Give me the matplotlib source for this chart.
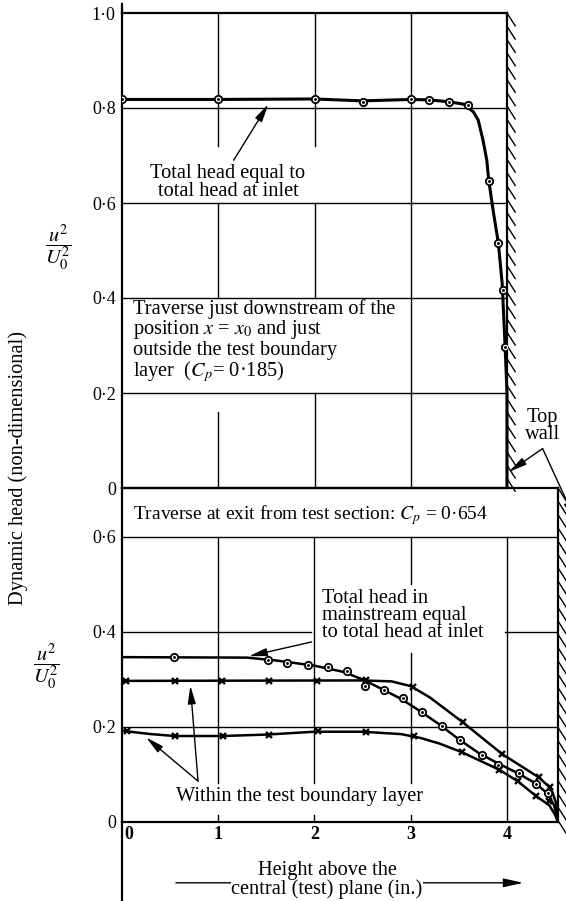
import matplotlib
matplotlib.use("Agg")
import matplotlib.pyplot as plt
import matplotlib.transforms as mtransforms

plt.rcParams['font.family'] = ['Liberation Serif', 'DejaVu Serif']
plt.rcParams['mathtext.fontset'] = 'stix'

# ---------------- data ----------------
X_TICKS = [0, 1, 2, 3, 4]
X_LABELS = ['0', '1', '2', '3', '4']
TOP_Y_TICKS = [0, 0.2, 0.4, 0.6, 0.8, 1.0]
TOP_Y_LABELS = ['0', '0·2', '0·4', '0·6', '0·8', '1·0']
BOT_Y_TICKS = [0, 0.2, 0.4, 0.6]
BOT_Y_LABELS = ['0', '0·2', '0·4', '0·6']

# upper traverse (C_p = 0.185): measured points and faired curve
TOP_PTS_X = [0.0, 1.0, 2.0, 2.5, 3.0, 3.19, 3.40, 3.59, 3.81, 3.91, 3.96, 3.98]
TOP_PTS_Y = [0.818, 0.818, 0.819, 0.813, 0.818, 0.816, 0.813, 0.806, 0.647, 0.516, 0.416, 0.296]
TOP_CURVE_X = [0.0, 1.0, 2.0, 2.5, 3.0, 3.2, 3.4, 3.55, 3.65, 3.70, 3.75, 3.79, 3.81, 3.86, 3.91, 3.95, 3.98, 4.0, 4.0]
TOP_CURVE_Y = [0.818, 0.818, 0.819, 0.815, 0.818, 0.817, 0.813, 0.808, 0.792, 0.775, 0.733, 0.69, 0.648, 0.579, 0.516, 0.43, 0.30, 0.2, 0.0]

# lower traverse (C_p = 0.654)
MS_PTS_X = [0.54, 1.52, 1.71, 1.93, 2.14, 2.34, 2.52, 2.72, 2.92, 3.12, 3.32, 3.51, 3.74, 3.91, 4.12, 4.30, 4.43]
MS_PTS_Y = [0.347, 0.342, 0.335, 0.331, 0.326, 0.317, 0.286, 0.278, 0.260, 0.232, 0.202, 0.172, 0.140, 0.121, 0.104, 0.081, 0.060]
MS_CURVE_X = [0.0, 1.3, 1.6, 2.0, 2.3, 2.5, 2.7, 2.9, 3.1, 3.3, 3.5, 3.7, 3.9, 4.1, 4.3, 4.42, 4.49, 4.53]
MS_CURVE_Y = [0.347, 0.346, 0.340, 0.329, 0.316, 0.300, 0.280, 0.259, 0.233, 0.205, 0.174, 0.146, 0.124, 0.104, 0.081, 0.060, 0.035, 0.0]

BLU_PTS_X = [0.04, 0.55, 1.04, 1.53, 2.03, 2.53, 3.02, 3.54, 3.95, 4.33, 4.45]
BLU_PTS_Y = [0.297, 0.297, 0.297, 0.297, 0.296, 0.299, 0.285, 0.210, 0.143, 0.094, 0.074]
BLU_CURVE_X = [0.0, 2.5, 2.8, 3.0, 3.2, 3.54, 3.95, 4.33, 4.46, 4.51, 4.53]
BLU_CURVE_Y = [0.297, 0.298, 0.296, 0.286, 0.262, 0.210, 0.143, 0.094, 0.070, 0.040, 0.0]

BLL_PTS_X = [0.05, 0.55, 1.05, 1.53, 2.04, 2.53, 3.03, 3.53, 3.92, 4.11, 4.30, 4.44]
BLL_PTS_Y = [0.192, 0.181, 0.181, 0.184, 0.191, 0.190, 0.180, 0.147, 0.110, 0.086, 0.055, 0.045]
BLL_CURVE_X = [0.0, 0.3, 0.55, 1.05, 1.5, 2.0, 2.5, 2.9, 3.1, 3.3, 3.53, 3.92, 4.11, 4.30, 4.44, 4.50, 4.53]
BLL_CURVE_Y = [0.192, 0.185, 0.181, 0.181, 0.184, 0.190, 0.190, 0.185, 0.177, 0.165, 0.147, 0.110, 0.086, 0.055, 0.035, 0.015, 0.0]

# ---------------- layout ----------------
W, H = 566, 901
fig = plt.figure(figsize=(W / 100, H / 100), dpi=100)
fig.patch.set_facecolor('white')

def fx(px):
    return px / W

def fy(py):
    return 1 - py / H

X0, XW_TOP, XW_BOT = 122, 507, 558
ax_top = fig.add_axes([fx(X0), fy(488), (XW_TOP - X0) / W, (488 - 13) / H])
ax_bot = fig.add_axes([fx(X0), fy(822), (XW_BOT - X0) / W, (822 - 488) / H])
ax_top.set_xlim(0, 4.0)
ax_top.set_ylim(0, 1.0)
ax_bot.set_xlim(0, 4.53)
ax_bot.set_ylim(0, 0.703)

FS = 14.7
FT = 13
LW_FRAME = 1.6
LW_GRID = 1.0

for ax in (ax_top, ax_bot):
    for s in ax.spines.values():
        s.set_linewidth(LW_FRAME)
    ax.tick_params(length=0, pad=4.5, labelsize=FT)
    ax.set_facecolor('none')

ax_top.set_xticks([])
ax_top.set_yticks(TOP_Y_TICKS)
ax_top.set_yticklabels(TOP_Y_LABELS)
ax_bot.set_xticks(X_TICKS)
ax_bot.set_xticklabels(X_LABELS, fontweight='bold')
ax_bot.tick_params(axis='x', pad=3)
ax_bot.set_yticks(BOT_Y_TICKS)
ax_bot.set_yticklabels(BOT_Y_LABELS)
lab0 = ax_bot.get_xticklabels()[0]
lab0.set_ha('left')
lab0.set_transform(lab0.get_transform() +
                   mtransforms.ScaledTranslation(2 / 100, 0, fig.dpi_scale_trans))

# ---------------- grid (with gaps for text) ----------------
gk = dict(color='k', lw=LW_GRID, zorder=1)
for yv in [0.2, 0.4, 0.6, 0.8]:
    ax_top.plot([0, 4.0], [yv, yv], **gk)
for xv, segs in [(1, [(0.72, 1.0), (0.4, 0.6), (0.0, 0.16)]),
                 (2, [(0.72, 1.0), (0.4, 0.6), (0.0, 0.2)]),
                 (3, [(0.0, 1.0)])]:
    for a, b in segs:
        ax_top.plot([xv, xv], [a, b], **gk)

ax_bot.plot([0, 4.53], [0.6, 0.6], **gk)
ax_bot.plot([0, 4.53], [0.2, 0.2], **gk)
ax_bot.plot([0, 1.96], [0.4, 0.4], **gk)
ax_bot.plot([3.98, 4.53], [0.4, 0.4], **gk)
for xv, segs in [(1, [(0.082, 0.6), (0.0, 0.014)]),
                 (2, [(0.082, 0.6), (0.0, 0.014)]),
                 (3, [(0.5, 0.6), (0.082, 0.355), (0.0, 0.014)]),
                 (4, [(0.0, 0.6)])]:
    for a, b in segs:
        ax_bot.plot([xv, xv], [a, b], **gk)

# ---------------- walls (hatching) ----------------
def hatch(ax, x, y0, y1, dx, dy, step):
    yy = y1
    while yy > y0 + 0.001:
        ax.plot([x, x + dx], [yy, yy - dy], color='k', lw=1.0, clip_on=False, zorder=1)
        yy -= step

hatch(ax_top, 4.0, 0.0, 1.0, 0.085, 0.027, 0.028)
hatch(ax_bot, 4.53, 0.0, 0.703, 0.085, 0.027, 0.028)

# left axis line extended beyond the panels
ax_top.plot([0, 0], [1.0, 1.02], color='k', lw=LW_FRAME, clip_on=False)
ax_bot.plot([0, 0], [0, -0.17], color='k', lw=LW_FRAME, clip_on=False)

# ---------------- curves ----------------
def circles(ax, xs, ys):
    ax.plot(xs, ys, ls='none', marker='o', ms=5.3, mfc='white', mec='k', mew=1.3, zorder=4)
    ax.plot(xs, ys, ls='none', marker='.', ms=2.2, color='k', zorder=5)

def crosses(ax, xs, ys):
    ax.plot(xs, ys, ls='none', marker='x', ms=5, mec='k', mew=1.7, zorder=4)

ax_top.plot(TOP_CURVE_X, TOP_CURVE_Y, color='k', lw=2.2, zorder=3, clip_on=False,
            solid_capstyle='butt')
circles(ax_top, TOP_PTS_X, TOP_PTS_Y)

ax_bot.plot(MS_CURVE_X, MS_CURVE_Y, color='k', lw=1.8, zorder=3)
circles(ax_bot, MS_PTS_X, MS_PTS_Y)
ax_bot.plot(BLU_CURVE_X, BLU_CURVE_Y, color='k', lw=1.8, zorder=3)
crosses(ax_bot, BLU_PTS_X, BLU_PTS_Y)
ax_bot.plot(BLL_CURVE_X, BLL_CURVE_Y, color='k', lw=1.8, zorder=3)
crosses(ax_bot, BLL_PTS_X, BLL_PTS_Y)

# ---------------- annotations ----------------
arr = dict(arrowstyle='-|>,head_length=0.9,head_width=0.2', color='k', lw=1.0,
           shrinkA=0, shrinkB=0, mutation_scale=12)

ax_top.text(1.1, 0.643, "Total head equal to\ntotal head at inlet",
            ha='center', va='center', fontsize=FS, linespacing=0.97)
ax_top.annotate('', xy=(1.52, 0.808), xytext=(1.16, 0.69), arrowprops=arr)

ax_top.text(0.11, 0.308,
            "Traverse just downstream of the\nposition $x$ = $x_0$ and just\n"
            "outside the test boundary\nlayer  ($C_p$= 0·185)",
            ha='left', va='center', fontsize=FS, linespacing=0.97)

ax_top.text(4.37, 0.13, "Top\nwall", ha='center', va='center', fontsize=FS, linespacing=0.85)
ax_top.annotate('', xy=(4.02, 0.034), xytext=(4.37, 0.083), arrowprops=arr,
                annotation_clip=False)
ax_top.annotate('', xy=(4.71, 0.636), xycoords=ax_bot.transData,
                xytext=(4.37, 0.083), textcoords=ax_top.transData,
                arrowprops=arr, annotation_clip=False)

ax_bot.text(0.11, 0.646, "Traverse at exit from test section: $C_p$ = 0·654",
            ha='left', va='center', fontsize=14)

ax_bot.text(2.08, 0.434, "Total head in\nmainstream equal\nto total head at inlet",
            ha='left', va='center', fontsize=FS, linespacing=0.85)
ax_bot.annotate('', xy=(1.32, 0.349), xytext=(1.97, 0.379), arrowprops=arr)

ax_bot.text(1.84, 0.054, "Within the test boundary layer",
            ha='center', va='center', fontsize=FS)
ax_bot.annotate('', xy=(0.71, 0.287), xytext=(0.79, 0.086), arrowprops=arr)
ax_bot.annotate('', xy=(0.25, 0.178), xytext=(0.79, 0.086), arrowprops=arr)

# x-axis caption with arrow
ax_bot.annotate('', xy=(4.17, -0.128), xytext=(0.56, -0.128),
                arrowprops=dict(arrowstyle='-|>,head_length=1.0,head_width=0.22',
                                color='k', lw=1.0, shrinkA=0, shrinkB=0, mutation_scale=12),
                annotation_clip=False)
ax_bot.text(2.13, -0.122, "Height above the\ncentral (test) plane (in.)",
            ha='center', va='center', fontsize=FS, linespacing=0.95,
            bbox=dict(fc='white', ec='none', pad=0.5), zorder=6)

# y-axis captions
fig.text(fx(18), fy(468), "Dynamic head (non-dimensional)", rotation=90,
         ha='center', va='center', fontsize=FS)
fig.text(fx(58), fy(248), r'$\dfrac{u^2}{U_0^2}$', ha='center', va='center', fontsize=FS)
fig.text(fx(46), fy(667), r'$\dfrac{u^2}{U_0^2}$', ha='center', va='center', fontsize=FS)

fig.savefig('out.png', dpi=100, facecolor='white')
